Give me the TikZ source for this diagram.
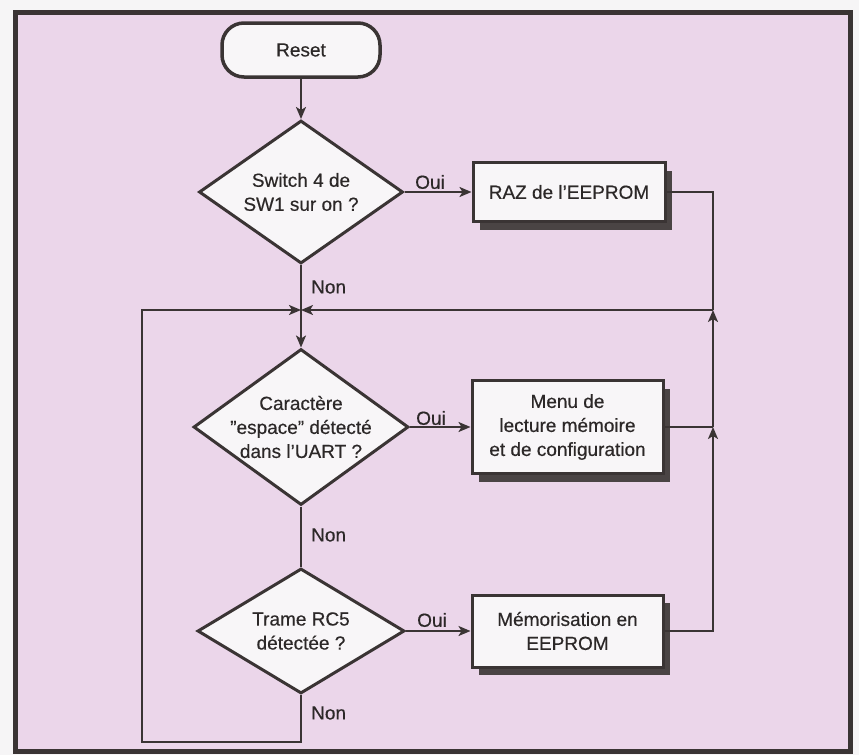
\documentclass[tikz,border=0pt]{standalone}
\usepackage{fontspec}
\setmainfont{Liberation Sans}[FakeBold=0.4]
\usetikzlibrary{shapes.geometric,arrows.meta,shadows}
\definecolor{bg}{HTML}{EBD6EA}
\definecolor{ink}{HTML}{3A3434}
\definecolor{textc}{HTML}{2C2828}
\definecolor{boxfill}{HTML}{F8F6F8}
\definecolor{shade}{HTML}{4A4444}
\definecolor{outside}{HTML}{F6F5F6}
\begin{document}
\begin{tikzpicture}[x=1pt,y=-1pt,
  txt/.style={font=\fontsize{19}{24}\selectfont, text=textc, align=center},
  conn/.style={draw=ink, line width=2pt},
  arr/.style={conn, -{Stealth[length=12pt,width=10pt,inset=3pt]}},
  dia/.style={diamond, draw=ink, line width=3pt, fill=boxfill, inner sep=0pt},
  proc/.style={rectangle, draw=ink, line width=3pt, fill=boxfill, inner sep=0pt, txt,
    drop shadow={shadow xshift=7pt, shadow yshift=-8pt, fill=shade, opacity=1}},
  term/.style={rectangle, rounded corners=22pt, draw=ink, line width=3.5pt, fill=boxfill, inner sep=0pt, txt},
  lbl/.style={txt, inner sep=1pt}
]
\useasboundingbox (0,0) rectangle (859,755);
\fill[outside] (0,0) rectangle (859,755);
\draw[fill=bg, draw=ink, line width=5pt] (15.5,12.5) rectangle (850,751);

% nodes
\node[term, minimum width=158pt, minimum height=54pt] (reset) at (301,50) {Reset};
\node[dia, minimum width=204pt, minimum height=143pt] (d1) at (301,192) {};
\node[txt] (t1) at (d1) {Switch 4 de\\SW1 sur on ?};
\node[proc, minimum width=192pt, minimum height=59pt] (raz) at (569,192) {RAZ de l’EEPROM};

\node[dia, minimum width=215pt, minimum height=156pt] (d2) at (301,427) {};
\node[txt] (t2) at (d2) {Caractère\\\char34espace\char34{} détecté\\dans l’UART ?};
\node[proc, minimum width=191pt, minimum height=93pt] (menu) at (567.5,427) {Menu de\\lecture mémoire\\et de configuration};

\node[dia, minimum width=207pt, minimum height=125pt] (d3) at (301,631) {};
\node[txt] (t3) at (d3) {Trame RC5\\détectée ?};
\node[proc, minimum width=191pt, minimum height=72pt] (mem) at (567.5,631) {Mémorisation en\\EEPROM};

% junction coordinates
\coordinate (j) at (301,310);
\coordinate (jr) at (713,310);
\coordinate (jm) at (713,427);
\coordinate (rz) at (713,192);
\coordinate (mm) at (713,631);
\coordinate (lb) at (301,742);
\coordinate (lbl2) at (142,742);
\coordinate (lt) at (142,310);

% connectors
\draw[arr] (reset.south) -- (d1.north);
\draw[arr] (d1.east) -- (raz.west);
\draw[conn] (d1.south) -- (j);
\draw[arr] (j) -- (d2.north);
\draw[arr] (d2.east) -- (menu.west);
\draw[conn] (d2.south) -- (d3.north);
\draw[arr] (d3.east) -- (mem.west);

\draw[conn] (raz.east) -- (rz) -- (jr);
\draw[arr] (jr) -- (j);
\draw[arr] (d3.south) -- (lb) -- (lbl2) -- (lt) -- (j);
\draw[arr] (mem.east) -- (mm) -- (jm);
\draw[arr] (jm) -- (jr);
\draw[conn] (menu.east) -- (jm);

% labels
\node[lbl] (oui1) at (430,182) {Oui};
\node[lbl] (oui2) at (431,418) {Oui};
\node[lbl] (oui3) at (432,620) {Oui};
\node[lbl, anchor=west] (non1) at (310,287) {Non};
\node[lbl, anchor=west] (non2) at (310,535) {Non};
\node[lbl, anchor=west] (non3) at (310,713) {Non};
\end{tikzpicture}
\end{document}
